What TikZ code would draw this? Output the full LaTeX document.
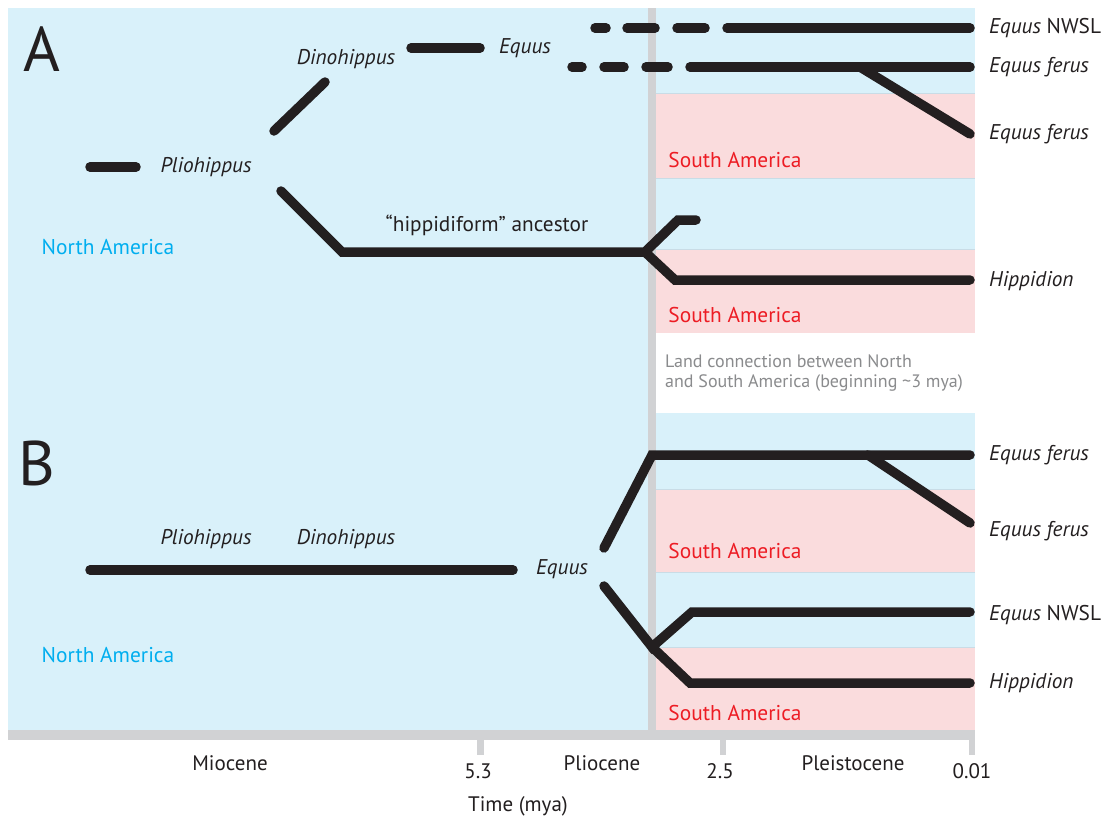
\documentclass[tikz,border=0pt]{standalone}
\usepackage{fontspec}
\setmainfont{PT Sans}
\definecolor{nablue}{HTML}{D9F1FA}
\definecolor{sapink}{HTML}{FADCDD}
\definecolor{bargray}{HTML}{D1D2D4}
\definecolor{branch}{HTML}{231F20}
\definecolor{natext}{HTML}{00AEEF}
\definecolor{satext}{HTML}{ED1C24}
\definecolor{notegray}{HTML}{8A8B8D}
\definecolor{divider}{HTML}{C9DCE6}
\tikzset{
  lineage/.style={draw=branch, line width=9.5pt, line cap=round, line join=miter},
  taxon/.style={font=\fontsize{21.3}{25}\selectfont\itshape, text=branch, inner sep=0pt},
  taxonR/.style={taxon, anchor=west},
  region/.style={font=\fontsize{21.4}{25}\selectfont, inner sep=0pt},
  panel/.style={font=\fontsize{63}{70}\selectfont, text=branch, inner sep=0pt},
  axislab/.style={font=\fontsize{21}{25}\selectfont, text=branch, inner sep=0pt},
}
\begin{document}
\begin{tikzpicture}[x=1pt,y=-1pt]
\useasboundingbox (0,0) rectangle (1106,822);
\fill[white] (0,0) rectangle (1106,822);
% continents
\fill[nablue] (8,8) rectangle (975,730);
\fill[sapink] (656,93) rectangle (975,178);
\fill[sapink] (656,249) rectangle (975,333);
\fill[white] (656,333) rectangle (975,413);
\fill[sapink] (656,489) rectangle (975,572);
\fill[sapink] (656,647) rectangle (975,730);
\foreach \yy in {93,178,249,489,572,647}
  \draw[divider, line width=0.8pt] (656,\yy) -- (975,\yy);
% time axis
\fill[bargray] (648,8) rectangle (656,730);
\fill[bargray] (8,730) rectangle (975,740);
\fill[bargray] (477,740) rectangle (484,755);
\fill[bargray] (720,740) rectangle (726,755);
\fill[bargray] (969,740) rectangle (975,755);

% panel letters and regions
\node[panel] (pA) at (42,49) {A};
\node[panel] (pB) at (37,463) {B};
\node[region, text=natext] (naA) at (108,247) {North America};
\node[region, text=natext] (naB) at (108,655) {North America};
\node[region, text=satext] (sa1) at (735,160) {South America};
\node[region, text=satext] (sa2) at (735,315) {South America};
\node[region, text=satext] (sa3) at (735,551) {South America};
\node[region, text=satext] (sa4) at (735,713) {South America};
\node[font=\fontsize{18}{20.5}\selectfont, text=notegray, align=left, anchor=west, inner sep=0pt]
  (land) at (665,373) {Land connection between North\\and South America (beginning \char`\~3 mya)};

% ---------- panel A ----------
\node[taxon] (pliA) at (206,167) {Pliohippus};
\node[taxon] (dinA) at (346,59) {Dinohippus};
\node[taxon] (eqA) at (525,48) {Equus};
\node[font=\fontsize{21.3}{25}\selectfont, text=branch, inner sep=0pt] (hip) at (487,225) {“hippidiform” ancestor};
\node[taxonR] (tA1) at (989,28) {Equus \upshape NWSL};
\node[taxonR] (tA2) at (989,67) {Equus ferus};
\node[taxonR] (tA3) at (989,134) {Equus ferus};
\node[taxonR] (tA4) at (989,281) {Hippidion};

\coordinate (a0) at (90,167);   \coordinate (a1) at (136,167);
\coordinate (a2) at (274,131);  \coordinate (a3) at (325,82);
\coordinate (a4) at (411,48);   \coordinate (a5) at (480,48);
\coordinate (a6) at (281,191);  \coordinate (a7) at (342,252);
\coordinate (a8) at (645,252);
\coordinate (a9) at (678,220);  \coordinate (a10) at (696,220);
\coordinate (a11) at (675,280); \coordinate (a12) at (970,280);
\draw[lineage] (a0) -- (a1);
\draw[lineage] (a2) -- (a3);
\draw[lineage] (a4) -- (a5);
\draw[lineage] (a6) -- (a7) -- (a8) -- (a9) -- (a10);
\draw[lineage] (a8) -- (a11) -- (a12);
% uncertain early part of the two Equus lineages
\foreach \xa/\xb in {595/606, 627/655, 677/705} \draw[lineage] (\xa,28) -- (\xb,28);
\coordinate (n1) at (727,28); \coordinate (n2) at (970,28);
\draw[lineage] (n1) -- (n2);
\foreach \xa/\xb in {572/582, 604/624, 646/668} \draw[lineage] (\xa,67) -- (\xb,67);
\coordinate (f1) at (690,67); \coordinate (f2) at (970,67);
\coordinate (f3) at (860,67); \coordinate (f4) at (970,134);
\draw[lineage] (f1) -- (f2);
\draw[lineage] (f3) -- (f4);

% ---------- panel B ----------
\node[taxon] (pliB) at (206,539) {Pliohippus};
\node[taxon] (dinB) at (346,539) {Dinohippus};
\node[taxon] (eqB) at (562,569) {Equus};
\node[taxonR] (tB1) at (989,455) {Equus ferus};
\node[taxonR] (tB2) at (989,531) {Equus ferus};
\node[taxonR] (tB3) at (989,615) {Equus \upshape NWSL};
\node[taxonR] (tB4) at (989,683) {Hippidion};

\coordinate (b0) at (90,570);   \coordinate (b1) at (513,570);
\coordinate (b2) at (604,548);  \coordinate (b3) at (652,455);
\coordinate (b4) at (970,455);
\coordinate (b5) at (868,455);  \coordinate (b6) at (970,523);
\coordinate (b7) at (604,586);  \coordinate (b8) at (652,647);
\coordinate (b9) at (692,612);  \coordinate (b10) at (970,612);
\coordinate (b11) at (690,683); \coordinate (b12) at (970,683);
\draw[lineage] (b0) -- (b1);
\draw[lineage] (b2) -- (b3) -- (b4);
\draw[lineage] (b5) -- (b6);
\draw[lineage] (b7) -- (b8) -- (b9) -- (b10);
\draw[lineage] (b8) -- (b11) -- (b12);

% axis labels
\node[axislab] (mio) at (230,763) {Miocene};
\node[axislab] (t53) at (478,771) {5.3};
\node[axislab] (plio) at (602,763) {Pliocene};
\node[axislab] (t25) at (720,771) {2.5};
\node[axislab] (plei) at (853,763) {Pleistocene};
\node[axislab] (t001) at (972,771) {0.01};
\node[axislab] (time) at (518,806) {Time (mya)};
\end{tikzpicture}
\end{document}
